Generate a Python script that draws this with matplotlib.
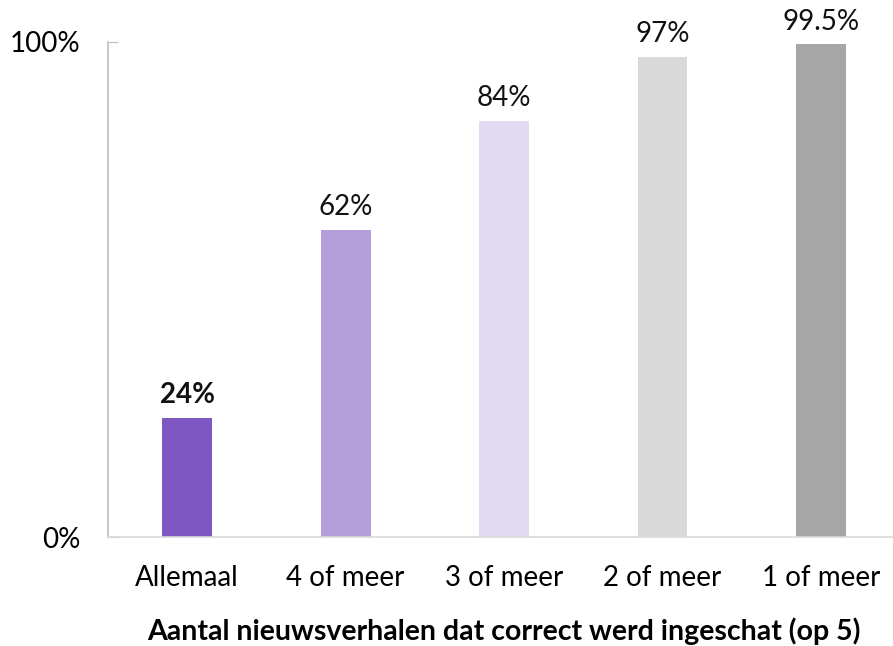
import numpy as np
from matplotlib import pyplot as plt

# Data
categorieen = ["Allemaal", "4 of meer", "3 of meer", "2 of meer", "1 of meer"]
percentages = [24, 62, 84, 97, 99.5]
labels = ["24%", "62%", "84%", "97%", "99.5%"]
kleuren = ["#7E57C2", "#B39DDB", "#E2D9F3", "#D9D9D9", "#A6A6A6"]

def main():
  plt.rcParams['font.family'] = ['Lato', 'DejaVu Sans']
  fig = plt.figure(figsize=(8.93, 6.46), dpi=100)
  ax = fig.add_axes([108/893, 1-537/646, 1-108/893+0.008, (537-42)/646])

  x = np.arange(len(categorieen))
  bars = ax.bar(x, percentages, width=0.315, color=kleuren)

  #Labels boven de staven
  for i, (b, lab) in enumerate(zip(bars, labels)):
    ax.annotate(lab, (b.get_x()+b.get_width()/2, b.get_height()),
                xytext=(0, 7), textcoords='offset points', ha='center', va='bottom',
                fontsize=20, fontweight='bold' if i == 0 else 'normal', color='#111111')

  ax.set_xlim(-0.5, 4.5)
  ax.set_ylim(0, 100)
  ax.set_yticks([0, 100])
  ax.set_yticklabels(["0%", "100%"], fontsize=20)
  ax.set_xticks(x)
  ax.set_xticklabels(categorieen, fontsize=20)
  ax.tick_params(axis='y', direction='in', length=7, color='#BFBFBF', pad=20)
  ax.tick_params(axis='x', length=0, pad=20)

  for s in ['top', 'right']:
    ax.spines[s].set_visible(False)
  ax.spines['left'].set_color('#BFBFBF')
  ax.spines['bottom'].set_color('#D9D9D9')
  ax.spines['left'].set_linewidth(1.2)
  ax.spines['bottom'].set_linewidth(1.2)

  ax.set_xlabel("Aantal nieuwsverhalen dat correct werd ingeschat (op 5)",
                fontsize=20.5, fontweight='bold', labelpad=19)

  fig.savefig("out.png", dpi=100)

if __name__ == "__main__":
  main()
